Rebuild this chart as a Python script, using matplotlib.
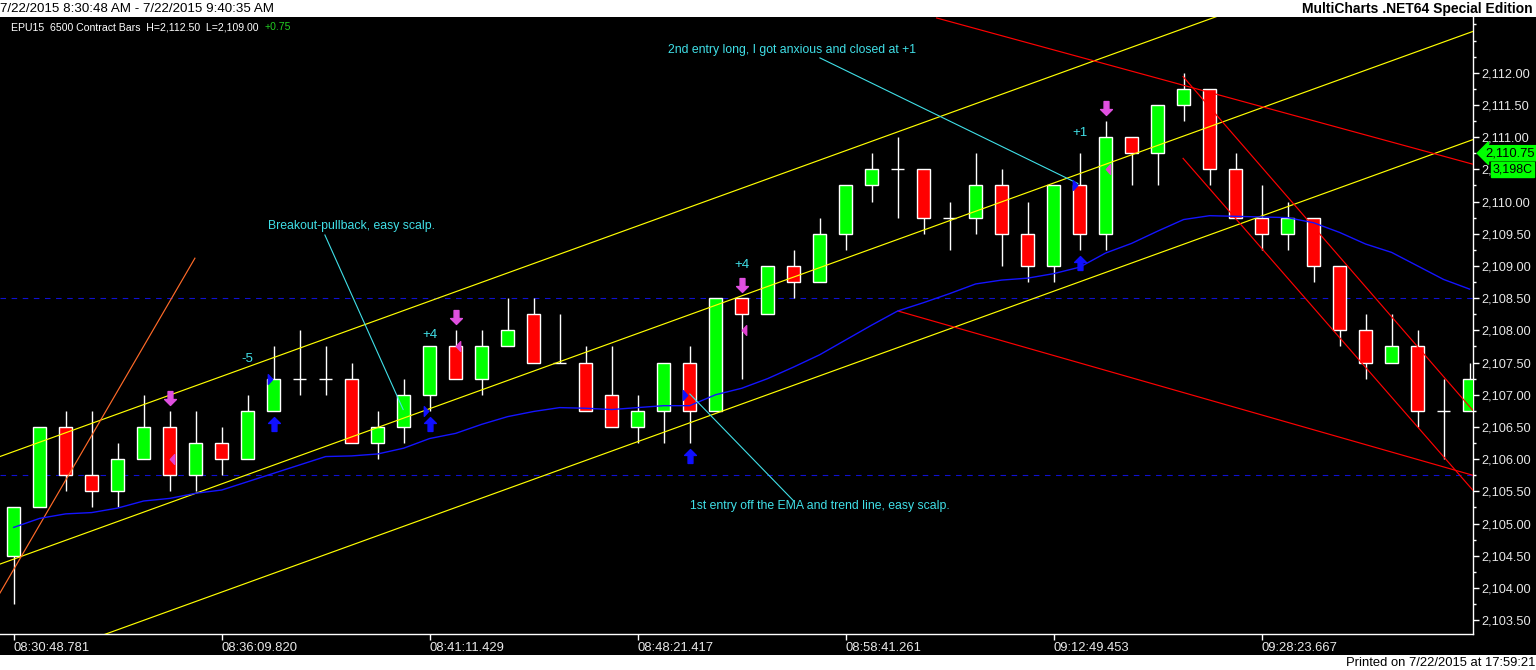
import matplotlib
matplotlib.use("Agg")
import matplotlib.pyplot as plt
import numpy as np
from matplotlib.path import Path
from matplotlib.patches import Rectangle
from matplotlib.ticker import MultipleLocator, FuncFormatter, FixedLocator
import matplotlib.transforms as mtransforms

plt.rcParams['font.family'] = ['Liberation Sans', 'DejaVu Sans']

# ---------------- data ----------------
opens  = [2104.5, 2105.25, 2106.5, 2105.75, 2105.5, 2106.0, 2106.5, 2105.75, 2106.25, 2106.0,
          2106.75, 2107.25, 2107.25, 2107.25, 2106.25, 2106.5, 2107.0, 2107.75, 2107.25, 2107.75,
          2108.25, 2107.5, 2107.5, 2107.0, 2106.5, 2106.75, 2107.5, 2106.75, 2108.5, 2108.25,
          2109.0, 2108.75, 2109.5, 2110.25, 2110.5, 2110.5, 2109.75, 2109.75, 2110.25, 2109.5,
          2109.0, 2110.25, 2109.5, 2111.0, 2110.75, 2111.5, 2111.75, 2110.5, 2109.75, 2109.5,
          2109.75, 2109.0, 2108.0, 2107.5, 2107.75, 2106.75, 2106.75]
highs  = [2105.25, 2106.5, 2106.75, 2106.75, 2106.25, 2107.0, 2106.75, 2106.75, 2106.5, 2107.0,
          2107.75, 2108.0, 2107.75, 2107.5, 2106.75, 2107.25, 2107.75, 2108.0, 2108.0, 2108.5,
          2108.5, 2108.25, 2107.75, 2107.75, 2107.0, 2107.5, 2107.75, 2108.5, 2108.5, 2109.0,
          2109.25, 2109.75, 2110.25, 2110.75, 2111.0, 2110.5, 2110.0, 2110.75, 2110.5, 2110.0,
          2110.25, 2110.75, 2111.25, 2111.0, 2111.5, 2112.0, 2111.75, 2110.75, 2110.25, 2110.0,
          2109.75, 2109.0, 2108.25, 2108.25, 2108.0, 2107.25, 2107.5]
lows   = [2103.75, 2105.25, 2105.5, 2105.25, 2105.25, 2106.0, 2105.5, 2105.5, 2105.75, 2106.0,
          2106.75, 2107.0, 2107.0, 2106.25, 2106.0, 2106.25, 2106.75, 2107.25, 2107.0, 2107.75,
          2107.5, 2107.5, 2106.75, 2106.5, 2106.25, 2106.25, 2106.25, 2106.75, 2107.25, 2108.25,
          2108.5, 2108.75, 2109.25, 2110.0, 2109.75, 2109.5, 2109.25, 2109.5, 2109.0, 2108.75,
          2108.75, 2109.25, 2109.25, 2110.25, 2110.25, 2111.25, 2110.25, 2109.75, 2109.25, 2109.25,
          2108.75, 2107.75, 2107.25, 2107.5, 2106.5, 2106.0, 2106.75]
closes = [2105.25, 2106.5, 2105.75, 2105.5, 2106.0, 2106.5, 2105.75, 2106.25, 2106.0, 2106.75,
          2107.25, 2107.25, 2107.25, 2106.25, 2106.5, 2107.0, 2107.75, 2107.25, 2107.75, 2108.0,
          2107.5, 2107.5, 2106.75, 2106.5, 2106.75, 2107.5, 2106.75, 2108.5, 2108.25, 2109.0,
          2108.75, 2109.5, 2110.25, 2110.5, 2110.5, 2109.75, 2109.75, 2110.25, 2109.5, 2109.0,
          2110.25, 2109.5, 2111.0, 2110.75, 2111.5, 2111.75, 2110.5, 2109.75, 2109.5, 2109.75,
          2109.0, 2108.0, 2107.5, 2107.75, 2106.75, 2106.75, 2107.25]
ema    = [2104.94, 2105.08, 2105.15, 2105.17, 2105.24, 2105.35, 2105.39, 2105.47, 2105.52, 2105.65,
          2105.78, 2105.91, 2106.04, 2106.05, 2106.08, 2106.17, 2106.32, 2106.40, 2106.54, 2106.66,
          2106.74, 2106.80, 2106.79, 2106.77, 2106.80, 2106.83, 2106.83, 2107.00, 2107.10, 2107.25,
          2107.43, 2107.62, 2107.85, 2108.08, 2108.30, 2108.43, 2108.57, 2108.72, 2108.78, 2108.81,
          2108.88, 2108.98, 2109.20, 2109.35, 2109.54, 2109.72, 2109.78, 2109.77, 2109.76, 2109.75,
          2109.67, 2109.52, 2109.34, 2109.21, 2109.00, 2108.79, 2108.64]

time_tick_bars   = [0, 8, 16, 24, 32, 40, 48]
time_tick_labels = ["08:30:48.781", "08:36:09.820", "08:41:11.429", "08:48:21.417",
                    "08:58:41.261", "09:12:49.453", "09:28:23.667"]
price_ticks = [2103.5, 2104.0, 2104.5, 2105.0, 2105.5, 2106.0, 2106.5, 2107.0, 2107.5,
               2108.0, 2108.5, 2109.0, 2109.5, 2110.0, 2110.5, 2111.0, 2111.5, 2112.0]

# drawn trend lines: (bar0, price0, bar1, price1)
yellow_lines = [(-0.53, 2106.04, 56.12, 2114.31),
                (-0.53, 2104.37, 56.12, 2112.64),
                (-0.53, 2102.69, 56.12, 2110.96)]
orange_lines = [(-0.53, 2103.92, 6.97, 2109.12)]
red_lines    = [(35.5, 2112.85, 56.12, 2110.58),
                (34.01, 2108.30, 56.12, 2105.75),
                (44.98, 2111.94, 56.12, 2106.76),
                (44.98, 2110.67, 56.12, 2105.52)]
dashed_levels = [2108.5, 2105.75]

# notes: text, bar, price, line(bar0, price0, bar1, price1)
notes = [("Breakout-pullback, easy scalp.", 12.98, 2109.62, (11.97, 2109.48, 14.98, 2106.77)),
         ("1st entry off the EMA and trend line, easy scalp.", 31.0, 2105.27, (26.01, 2107.01, 29.98, 2105.36)),
         ("2nd entry long, I got anxious and closed at +1", 29.95, 2112.35, (31.01, 2112.23, 40.93, 2110.28))]

long_bars   = [10, 16, 26, 41]
long_prices = [2107.25, 2106.75, 2107.0, 2110.25]
exit_bars   = [6, 17, 28, 42]
exit_prices = [2106.0, 2107.75, 2108.0, 2110.5]
pnl_labels  = ["-5", "+4", "+4", "+1"]
pnl_bars    = [9, 16, 28, 41]
pnl_prices  = [2107.55, 2107.92, 2109.01, 2111.06]

last_price = 2110.75
volume_label = "3,198C"
volume_price = 2110.5

# ---------------- figure ----------------
W, H = 1536, 670
fig = plt.figure(figsize=(W / 100, H / 100), dpi=100, facecolor='black')
fig.add_artist(Rectangle((0, 1 - 17 / H), 1, 17 / H, transform=fig.transFigure,
                         facecolor='white', edgecolor='none', zorder=0))
fig.add_artist(Rectangle((0, 0), 1, 15 / H, transform=fig.transFigure,
                         facecolor='white', edgecolor='none', zorder=0))

ax_right_px = 1472.7
ax = fig.add_axes([0, (H - 634.3) / H, ax_right_px / W, (634.3 - 17) / H])
ax.set_facecolor('black')
ax.set_xlim(-0.527, 56.12)
ax.set_ylim(2103.28, 2112.865)

for s in ['left', 'top']:
    ax.spines[s].set_visible(False)
for s in ['right', 'bottom']:
    ax.spines[s].set_color('white')
    ax.spines[s].set_linewidth(1)

# y axis on right
def price_fmt(v, p):
    s = f"{v:,.2f}"
    if abs(v - volume_price) < 1e-6:
        return s[:2]          # rest hidden behind the volume box
    return s

ax.yaxis.tick_right()
ax.yaxis.set_major_locator(FixedLocator(price_ticks))
ax.yaxis.set_minor_locator(MultipleLocator(0.25))
ax.yaxis.set_major_formatter(FuncFormatter(price_fmt))
ax.tick_params(axis='y', which='major', colors='white', labelcolor='#e8e8e8',
               length=4, width=1, pad=2.5, labelsize=9.2)
ax.tick_params(axis='y', which='minor', colors='white', length=2, width=1)

ax.set_xticks(time_tick_bars)
ax.set_xticklabels(time_tick_labels)
for lbl in ax.get_xticklabels():
    lbl.set_horizontalalignment('left')
ax.tick_params(axis='x', colors='white', labelcolor='#e8e8e8', length=4, width=1,
               pad=1.5, labelsize=9.4)

# dashed levels
for lv in dashed_levels:
    ax.axhline(lv, color='#1010d0', lw=0.8, ls=(0, (5, 5)), zorder=1)

# candles
x = np.arange(len(opens))
o = np.array(opens); c = np.array(closes); hi = np.array(highs); lo = np.array(lows)
ax.vlines(x, lo, hi, color='white', lw=1, zorder=2)
body_w = 0.49
up = c > o
dn = c < o
dj = c == o
ax.bar(x[up], (c - o)[up], bottom=o[up], width=body_w, color='#00ff00',
       edgecolor='white', linewidth=1, zorder=3)
ax.bar(x[dn], (o - c)[dn], bottom=c[dn], width=body_w, color='#ff0000',
       edgecolor='white', linewidth=1, zorder=3)
ax.hlines(c[dj], x[dj] - body_w / 2, x[dj] + body_w / 2, color='white', lw=1, zorder=3)

# trend lines
for (x0, y0, x1, y1) in yellow_lines:
    ax.plot([x0, x1], [y0, y1], color='#ffff00', lw=0.85, zorder=4)
for (x0, y0, x1, y1) in orange_lines:
    ax.plot([x0, x1], [y0, y1], color='#ff6a28', lw=0.85, zorder=4)
for (x0, y0, x1, y1) in red_lines:
    ax.plot([x0, x1], [y0, y1], color='#ff0000', lw=0.85, zorder=4)

# EMA
ax.plot(x, ema, color='#1414ff', lw=1.0, zorder=4)

# notes
note_color = '#40e0e8'
for (txt, tx, ty, (x0, y0, x1, y1)) in notes:
    ax.plot([x0, x1], [y0, y1], color=note_color, lw=0.8, zorder=5)
    ax.text(tx, ty, txt, color=note_color, fontsize=8.8, ha='center', va='center', zorder=6)

# markers
up_arrow = Path([(0, 1), (0.85, 0.15), (0.35, 0.15), (0.35, -1), (-0.35, -1),
                 (-0.35, 0.15), (-0.85, 0.15), (0, 1)],
                [Path.MOVETO] + [Path.LINETO] * 6 + [Path.CLOSEPOLY])
dn_arrow = Path([(vx, -vy) for vx, vy in up_arrow.vertices], up_arrow.codes)
right_tri = Path([(-0.45, 1), (0.45, 0), (-0.45, -1), (-0.45, 1)],
                 [Path.MOVETO, Path.LINETO, Path.LINETO, Path.CLOSEPOLY])
left_tri = Path([(0.45, 1), (-0.45, 0), (0.45, -1), (0.45, 1)],
                [Path.MOVETO, Path.LINETO, Path.LINETO, Path.CLOSEPOLY])

long_lows = [lows[b] for b in long_bars]
exit_highs = [highs[b] for b in exit_bars]
ax.plot(long_bars, np.array(long_lows) - 0.2, ls='none', marker=up_arrow, ms=10,
        color='#1010ff', mec='#1010ff', zorder=7)
ax.plot(exit_bars, np.array(exit_highs) + 0.2, ls='none', marker=dn_arrow, ms=10,
        color='#e050e0', mec='#e050e0', zorder=7)
ax.plot(np.array(long_bars) - 0.16, long_prices, ls='none', marker=right_tri, ms=7,
        color='#1010ff', mec='#1010ff', zorder=7)
ax.plot(np.array(exit_bars) + 0.1, exit_prices, ls='none', marker=left_tri, ms=7,
        color='#e040d0', mec='#e040d0', zorder=7)
for lab, b, p in zip(pnl_labels, pnl_bars, pnl_prices):
    ax.text(b, p, lab, color=note_color, fontsize=9.5, ha='center', va='center', zorder=7)

# header inside chart
fig.text(11 / W, 1 - 27 / H, "EPU15  6500 Contract Bars  H=2,112.50  L=2,109.00",
         color='white', fontsize=7.6, ha='left', va='center')
fig.text(265 / W, 1 - 27 / H, "+0.75", color='#22cc22', fontsize=7.6, ha='left', va='center')

# title strip
fig.text(0 / W, 1 - 8.5 / H, "7/22/2015 8:30:48 AM - 7/22/2015 9:40:35 AM",
         color='black', fontsize=9.6, ha='left', va='center')
fig.text(1533 / W, 1 - 8.5 / H, "MultiCharts .NET64 Special Edition",
         color='black', fontsize=10, fontweight='bold', ha='right', va='center')
fig.text(1535 / W, 7.5 / H, "Printed on 7/22/2015 at 17:59:21",
         color='black', fontsize=9.4, ha='right', va='center')

# last price marker and volume box on price axis
blend = mtransforms.blended_transform_factory(ax.transAxes, ax.transData)
ax.text(1.0085, last_price, "2,110.75", transform=blend, color='black', fontsize=9.4,
        ha='left', va='center', clip_on=False, zorder=10,
        bbox=dict(boxstyle='larrow,pad=0.12', fc='#00ff00', ec='#00ff00'))
ax.text(1.0135, volume_price, volume_label, transform=blend, color='black', fontsize=9.0,
        ha='left', va='center', clip_on=False, zorder=10,
        bbox=dict(boxstyle='square,pad=0.1', fc='#00ff00', ec='#00ff00'))

fig.savefig("out.png", dpi=100, facecolor='black')
